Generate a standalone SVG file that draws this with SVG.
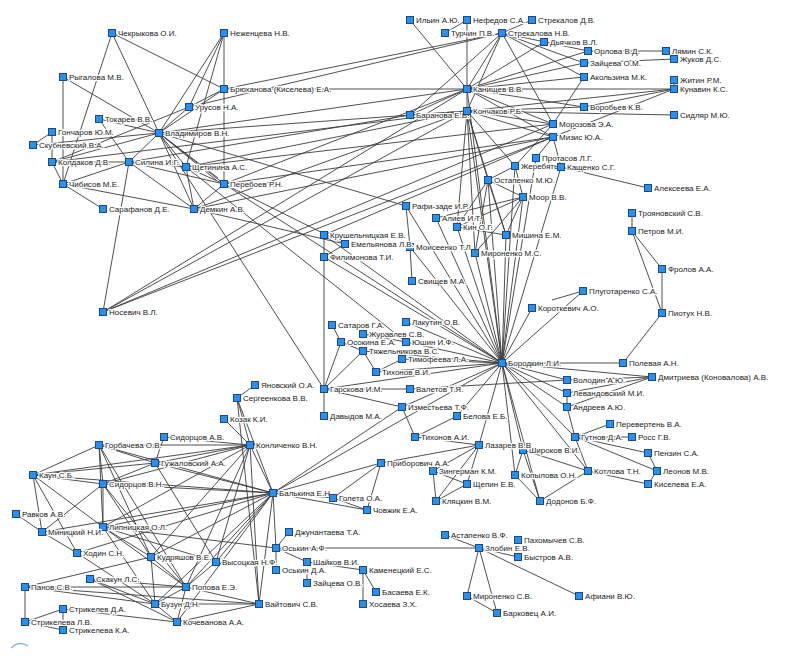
<svg xmlns="http://www.w3.org/2000/svg" width="803" height="658" viewBox="0 0 803 658">
<style>
.e line{stroke:#3c3c3c;stroke-width:0.9}
.n rect{fill:#2b8ff0;stroke:#174a86;stroke-width:1}
.n text{font-family:"Liberation Sans",Arial,sans-serif;font-size:8px;fill:#222;stroke:#fff;stroke-width:2.6px;stroke-linejoin:round;paint-order:stroke}
</style>
<rect width="803" height="658" fill="#fff"/>
<path d="M11,648 Q19,640 28,646" fill="none" stroke="#8fb3d9" stroke-width="1.5"/>
<g id="connectors" class="e">
<line x1="112" y1="33" x2="63" y2="184"/><line x1="112" y1="33" x2="159" y2="133"/><line x1="112" y1="33" x2="224" y2="89"/>
<line x1="63" y1="77" x2="63" y2="184"/><line x1="63" y1="77" x2="159" y2="133"/><line x1="99" y1="119" x2="159" y2="133"/>
<line x1="99" y1="119" x2="129" y2="162"/><line x1="52" y1="132" x2="33" y2="145"/><line x1="52" y1="132" x2="52" y2="162"/>
<line x1="33" y1="145" x2="159" y2="133"/><line x1="52" y1="162" x2="63" y2="184"/><line x1="52" y1="162" x2="129" y2="162"/>
<line x1="52" y1="162" x2="159" y2="133"/><line x1="52" y1="162" x2="189" y2="107"/><line x1="63" y1="184" x2="129" y2="162"/>
<line x1="63" y1="184" x2="103" y2="209"/><line x1="63" y1="184" x2="194" y2="209"/><line x1="129" y1="162" x2="159" y2="133"/>
<line x1="129" y1="162" x2="186" y2="167"/><line x1="129" y1="162" x2="194" y2="209"/><line x1="129" y1="162" x2="103" y2="312"/>
<line x1="159" y1="133" x2="186" y2="167"/><line x1="159" y1="133" x2="224" y2="184"/><line x1="159" y1="133" x2="194" y2="209"/>
<line x1="159" y1="133" x2="189" y2="107"/><line x1="159" y1="133" x2="224" y2="89"/><line x1="159" y1="133" x2="224" y2="33"/>
<line x1="189" y1="107" x2="224" y2="33"/><line x1="189" y1="107" x2="224" y2="89"/><line x1="186" y1="167" x2="224" y2="184"/>
<line x1="186" y1="167" x2="224" y2="33"/><line x1="224" y1="89" x2="224" y2="184"/><line x1="224" y1="33" x2="224" y2="89"/>
<line x1="129" y1="162" x2="224" y2="184"/><line x1="186" y1="167" x2="194" y2="209"/><line x1="194" y1="209" x2="224" y2="184"/>
<line x1="159" y1="133" x2="216" y2="180"/><line x1="159" y1="133" x2="218" y2="178"/>
<line x1="224" y1="89" x2="467" y2="89"/><line x1="224" y1="89" x2="502" y2="33"/><line x1="189" y1="107" x2="502" y2="33"/>
<line x1="159" y1="133" x2="467" y2="89"/><line x1="159" y1="133" x2="467" y2="111"/><line x1="159" y1="133" x2="406" y2="206"/>
<line x1="159" y1="133" x2="324" y2="389"/><line x1="186" y1="167" x2="467" y2="111"/><line x1="186" y1="167" x2="553" y2="124"/>
<line x1="224" y1="184" x2="467" y2="89"/><line x1="224" y1="184" x2="553" y2="137"/><line x1="224" y1="184" x2="502" y2="363"/>
<line x1="129" y1="162" x2="410" y2="115"/><line x1="52" y1="162" x2="467" y2="111"/><line x1="194" y1="209" x2="553" y2="137"/>
<line x1="194" y1="209" x2="467" y2="111"/><line x1="103" y1="312" x2="467" y2="89"/><line x1="103" y1="312" x2="467" y2="111"/>
<line x1="103" y1="312" x2="553" y2="124"/><line x1="103" y1="312" x2="553" y2="137"/><line x1="186" y1="167" x2="406" y2="342"/>
<line x1="224" y1="184" x2="345" y2="244"/><line x1="194" y1="209" x2="345" y2="244"/>
<line x1="410" y1="20" x2="467" y2="89"/><line x1="467" y1="20" x2="445" y2="33"/><line x1="532" y1="20" x2="502" y2="33"/>
<line x1="467" y1="20" x2="467" y2="89"/><line x1="467" y1="89" x2="467" y2="111"/><line x1="502" y1="33" x2="467" y2="89"/>
<line x1="502" y1="33" x2="467" y2="111"/><line x1="502" y1="33" x2="410" y2="115"/><line x1="502" y1="33" x2="553" y2="124"/>
<line x1="502" y1="33" x2="588" y2="51"/><line x1="502" y1="33" x2="584" y2="63"/><line x1="502" y1="33" x2="584" y2="77"/>
<line x1="544" y1="42" x2="467" y2="89"/><line x1="467" y1="89" x2="588" y2="51"/><line x1="467" y1="89" x2="584" y2="63"/>
<line x1="467" y1="89" x2="584" y2="77"/><line x1="588" y1="51" x2="666" y2="51"/><line x1="584" y1="63" x2="674" y2="59"/>
<line x1="666" y1="51" x2="674" y2="59"/><line x1="674" y1="80" x2="674" y2="89"/><line x1="467" y1="89" x2="674" y2="89"/>
<line x1="467" y1="111" x2="674" y2="89"/><line x1="584" y1="107" x2="674" y2="89"/><line x1="553" y1="137" x2="674" y2="89"/>
<line x1="467" y1="111" x2="674" y2="115"/><line x1="467" y1="111" x2="584" y2="107"/><line x1="467" y1="89" x2="584" y2="107"/>
<line x1="467" y1="111" x2="553" y2="124"/><line x1="467" y1="111" x2="553" y2="137"/><line x1="467" y1="89" x2="553" y2="124"/>
<line x1="467" y1="89" x2="553" y2="137"/><line x1="553" y1="124" x2="584" y2="77"/><line x1="553" y1="137" x2="536" y2="158"/>
<line x1="553" y1="137" x2="561" y2="167"/><line x1="561" y1="167" x2="648" y2="188"/><line x1="561" y1="167" x2="502" y2="363"/>
<line x1="467" y1="111" x2="457" y2="227"/><line x1="467" y1="111" x2="506" y2="235"/><line x1="467" y1="111" x2="475" y2="253"/>
<line x1="467" y1="111" x2="488" y2="180"/><line x1="467" y1="111" x2="515" y2="166"/><line x1="467" y1="89" x2="410" y2="115"/>
<line x1="410" y1="115" x2="467" y2="111"/><line x1="553" y1="137" x2="324" y2="235"/><line x1="553" y1="124" x2="515" y2="166"/>
<line x1="515" y1="166" x2="523" y2="197"/><line x1="515" y1="166" x2="488" y2="180"/><line x1="488" y1="180" x2="523" y2="197"/>
<line x1="488" y1="180" x2="457" y2="227"/><line x1="488" y1="180" x2="506" y2="235"/><line x1="488" y1="180" x2="475" y2="253"/>
<line x1="523" y1="197" x2="436" y2="218"/><line x1="523" y1="197" x2="457" y2="227"/><line x1="523" y1="197" x2="475" y2="253"/>
<line x1="523" y1="197" x2="506" y2="235"/><line x1="457" y1="227" x2="506" y2="235"/><line x1="406" y1="206" x2="410" y2="247"/>
<line x1="410" y1="247" x2="412" y2="281"/><line x1="406" y1="206" x2="502" y2="363"/><line x1="410" y1="247" x2="502" y2="363"/>
<line x1="467" y1="111" x2="502" y2="363"/><line x1="515" y1="166" x2="502" y2="363"/><line x1="488" y1="180" x2="502" y2="363"/>
<line x1="523" y1="197" x2="502" y2="363"/><line x1="457" y1="227" x2="502" y2="363"/><line x1="506" y1="235" x2="502" y2="363"/>
<line x1="475" y1="253" x2="502" y2="363"/><line x1="436" y1="218" x2="502" y2="363"/><line x1="467" y1="89" x2="502" y2="363"/>
<line x1="536" y1="158" x2="502" y2="363"/>
<line x1="632" y1="213" x2="632" y2="231"/><line x1="632" y1="231" x2="662" y2="269"/><line x1="632" y1="231" x2="662" y2="313"/>
<line x1="662" y1="269" x2="662" y2="313"/><line x1="662" y1="313" x2="623" y2="363"/><line x1="623" y1="363" x2="502" y2="363"/>
<line x1="583" y1="291" x2="552" y2="300"/><line x1="583" y1="291" x2="502" y2="363"/><line x1="532" y1="308" x2="502" y2="363"/>
<line x1="502" y1="363" x2="567" y2="380"/><line x1="502" y1="363" x2="652" y2="377"/><line x1="502" y1="363" x2="567" y2="393"/>
<line x1="502" y1="363" x2="567" y2="407"/><line x1="567" y1="380" x2="652" y2="377"/><line x1="567" y1="393" x2="652" y2="377"/>
<line x1="567" y1="407" x2="652" y2="377"/><line x1="567" y1="393" x2="567" y2="407"/><line x1="567" y1="407" x2="575" y2="437"/>
<line x1="502" y1="363" x2="575" y2="437"/><line x1="575" y1="437" x2="610" y2="424"/><line x1="575" y1="437" x2="632" y2="437"/>
<line x1="575" y1="437" x2="648" y2="453"/><line x1="575" y1="437" x2="657" y2="471"/><line x1="588" y1="471" x2="648" y2="484"/>
<line x1="648" y1="453" x2="657" y2="471"/><line x1="657" y1="471" x2="648" y2="484"/><line x1="575" y1="437" x2="588" y2="471"/>
<line x1="502" y1="363" x2="588" y2="471"/><line x1="502" y1="363" x2="523" y2="450"/><line x1="502" y1="363" x2="515" y2="475"/>
<line x1="502" y1="363" x2="479" y2="445"/><line x1="502" y1="363" x2="457" y2="416"/><line x1="502" y1="363" x2="540" y2="501"/>
<line x1="523" y1="450" x2="588" y2="471"/><line x1="540" y1="501" x2="588" y2="471"/><line x1="523" y1="450" x2="515" y2="475"/>
<line x1="523" y1="450" x2="540" y2="501"/><line x1="515" y1="475" x2="540" y2="501"/>
<line x1="479" y1="445" x2="415" y2="437"/><line x1="479" y1="445" x2="433" y2="471"/><line x1="479" y1="445" x2="436" y2="501"/>
<line x1="479" y1="445" x2="467" y2="484"/><line x1="479" y1="445" x2="381" y2="463"/><line x1="457" y1="416" x2="415" y2="437"/>
<line x1="433" y1="471" x2="467" y2="484"/><line x1="433" y1="471" x2="436" y2="501"/><line x1="436" y1="501" x2="467" y2="484"/>
<line x1="402" y1="407" x2="415" y2="437"/><line x1="402" y1="407" x2="324" y2="389"/><line x1="402" y1="407" x2="273" y2="493"/>
<line x1="402" y1="407" x2="502" y2="363"/><line x1="324" y1="389" x2="410" y2="389"/><line x1="410" y1="389" x2="567" y2="380"/>
<line x1="324" y1="389" x2="502" y2="363"/><line x1="324" y1="389" x2="341" y2="342"/><line x1="324" y1="389" x2="363" y2="351"/>
<line x1="324" y1="389" x2="324" y2="257"/><line x1="324" y1="389" x2="324" y2="416"/><line x1="324" y1="235" x2="324" y2="257"/>
<line x1="345" y1="244" x2="324" y2="257"/><line x1="341" y1="342" x2="332" y2="325"/><line x1="341" y1="342" x2="363" y2="351"/>
<line x1="363" y1="351" x2="376" y2="372"/><line x1="376" y1="372" x2="402" y2="359"/><line x1="363" y1="334" x2="406" y2="342"/>
<line x1="363" y1="351" x2="502" y2="363"/><line x1="402" y1="359" x2="502" y2="363"/><line x1="376" y1="372" x2="502" y2="363"/>
<line x1="406" y1="342" x2="502" y2="363"/><line x1="406" y1="322" x2="502" y2="363"/><line x1="324" y1="257" x2="502" y2="363"/>
<line x1="324" y1="235" x2="502" y2="363"/><line x1="273" y1="493" x2="502" y2="363"/>
<line x1="255" y1="385" x2="237" y2="398"/><line x1="237" y1="398" x2="250" y2="445"/><line x1="237" y1="398" x2="273" y2="493"/>
<line x1="237" y1="398" x2="259" y2="604"/><line x1="224" y1="419" x2="250" y2="445"/><line x1="250" y1="445" x2="273" y2="493"/>
<line x1="250" y1="445" x2="99" y2="445"/><line x1="250" y1="445" x2="164" y2="437"/><line x1="250" y1="445" x2="155" y2="463"/>
<line x1="250" y1="445" x2="103" y2="484"/><line x1="250" y1="445" x2="103" y2="527"/><line x1="250" y1="445" x2="151" y2="557"/>
<line x1="250" y1="445" x2="216" y2="562"/><line x1="250" y1="445" x2="186" y2="587"/><line x1="250" y1="445" x2="33" y2="475"/>
<line x1="273" y1="493" x2="103" y2="484"/><line x1="273" y1="493" x2="155" y2="463"/><line x1="273" y1="493" x2="103" y2="527"/>
<line x1="273" y1="493" x2="151" y2="557"/><line x1="273" y1="493" x2="216" y2="562"/><line x1="273" y1="493" x2="186" y2="587"/>
<line x1="273" y1="493" x2="155" y2="604"/><line x1="273" y1="493" x2="259" y2="604"/><line x1="273" y1="493" x2="276" y2="548"/>
<line x1="273" y1="493" x2="333" y2="498"/><line x1="273" y1="493" x2="367" y2="510"/><line x1="273" y1="493" x2="381" y2="463"/>
<line x1="273" y1="493" x2="99" y2="445"/><line x1="273" y1="493" x2="42" y2="532"/><line x1="273" y1="493" x2="77" y2="553"/>
<line x1="273" y1="493" x2="33" y2="475"/><line x1="273" y1="493" x2="177" y2="622"/>
<line x1="381" y1="463" x2="333" y2="498"/><line x1="381" y1="463" x2="367" y2="510"/><line x1="333" y1="498" x2="367" y2="510"/>
<line x1="276" y1="548" x2="289" y2="532"/><line x1="276" y1="548" x2="276" y2="570"/><line x1="276" y1="548" x2="307" y2="562"/>
<line x1="276" y1="548" x2="479" y2="548"/><line x1="307" y1="562" x2="363" y2="570"/><line x1="307" y1="572" x2="307" y2="583"/>
<line x1="363" y1="570" x2="376" y2="592"/><line x1="363" y1="570" x2="363" y2="604"/><line x1="103" y1="527" x2="276" y2="548"/>
<line x1="99" y1="445" x2="33" y2="475"/><line x1="99" y1="445" x2="103" y2="484"/><line x1="99" y1="445" x2="155" y2="463"/>
<line x1="99" y1="445" x2="103" y2="527"/><line x1="99" y1="445" x2="151" y2="557"/><line x1="99" y1="445" x2="186" y2="587"/>
<line x1="33" y1="475" x2="155" y2="463"/><line x1="33" y1="475" x2="103" y2="484"/><line x1="33" y1="475" x2="103" y2="527"/>
<line x1="33" y1="475" x2="42" y2="532"/><line x1="33" y1="475" x2="77" y2="553"/><line x1="103" y1="484" x2="103" y2="527"/>
<line x1="103" y1="484" x2="42" y2="532"/><line x1="103" y1="484" x2="155" y2="463"/><line x1="103" y1="484" x2="151" y2="557"/>
<line x1="103" y1="484" x2="186" y2="587"/><line x1="164" y1="437" x2="155" y2="463"/><line x1="16" y1="514" x2="42" y2="532"/>
<line x1="42" y1="532" x2="77" y2="553"/><line x1="103" y1="527" x2="151" y2="557"/><line x1="103" y1="527" x2="186" y2="587"/>
<line x1="103" y1="527" x2="155" y2="604"/><line x1="103" y1="527" x2="216" y2="562"/><line x1="77" y1="553" x2="155" y2="604"/>
<line x1="25" y1="587" x2="25" y2="622"/><line x1="25" y1="587" x2="151" y2="557"/><line x1="25" y1="587" x2="155" y2="604"/>
<line x1="25" y1="587" x2="186" y2="587"/><line x1="25" y1="587" x2="259" y2="604"/><line x1="90" y1="579" x2="155" y2="604"/>
<line x1="90" y1="579" x2="186" y2="587"/><line x1="90" y1="579" x2="177" y2="622"/><line x1="63" y1="609" x2="25" y2="622"/>
<line x1="63" y1="609" x2="63" y2="630"/><line x1="25" y1="622" x2="63" y2="630"/><line x1="63" y1="609" x2="177" y2="622"/>
<line x1="177" y1="622" x2="155" y2="604"/><line x1="177" y1="622" x2="186" y2="587"/><line x1="177" y1="622" x2="259" y2="604"/>
<line x1="155" y1="604" x2="186" y2="587"/><line x1="155" y1="604" x2="259" y2="604"/><line x1="186" y1="587" x2="259" y2="604"/>
<line x1="151" y1="557" x2="186" y2="587"/><line x1="151" y1="557" x2="155" y2="604"/><line x1="216" y1="562" x2="186" y2="587"/>
<line x1="155" y1="463" x2="216" y2="562"/><line x1="250" y1="445" x2="259" y2="604"/>
<line x1="445" y1="535" x2="479" y2="548"/><line x1="479" y1="548" x2="518" y2="557"/><line x1="479" y1="548" x2="467" y2="596"/>
<line x1="479" y1="548" x2="497" y2="613"/><line x1="467" y1="596" x2="497" y2="613"/><line x1="479" y1="548" x2="579" y2="596"/>
</g>
<g class="n">
<g id="n1"><rect x="108.5" y="29.5" width="7" height="7"/><text x="118" y="36">Чекрыкова О.И.</text></g>
<g id="n2"><rect x="220.5" y="29.5" width="7" height="7"/><text x="230" y="36">Неженцева Н.В.</text></g>
<g id="n3"><rect x="59.5" y="73.5" width="7" height="7"/><text x="69" y="80">Рыгалова М.В.</text></g>
<g id="n4"><rect x="220.5" y="85.5" width="7" height="7"/><text x="230" y="92">Брюханова (Киселева) Е.А.</text></g>
<g id="n5"><rect x="185.5" y="103.5" width="7" height="7"/><text x="195" y="110">Урусов Н.А.</text></g>
<g id="n6"><rect x="95.5" y="115.5" width="7" height="7"/><text x="105" y="122">Токарев В.В.</text></g>
<g id="n7"><rect x="48.5" y="128.5" width="7" height="7"/><text x="58" y="135">Гончаров Ю.М.</text></g>
<g id="n8"><rect x="155.5" y="129.5" width="7" height="7"/><text x="165" y="136">Владимиров В.Н.</text></g>
<g id="n9"><rect x="29.5" y="141.5" width="7" height="7"/><text x="39" y="148">Скубневский В.А.</text></g>
<g id="n10"><rect x="48.5" y="158.5" width="7" height="7"/><text x="58" y="165">Колдаков Д.В.</text></g>
<g id="n11"><rect x="125.5" y="158.5" width="7" height="7"/><text x="135" y="165">Силина И.Г.</text></g>
<g id="n12"><rect x="182.5" y="163.5" width="7" height="7"/><text x="192" y="170">Щетинина А.С.</text></g>
<g id="n13"><rect x="59.5" y="180.5" width="7" height="7"/><text x="69" y="187">Чибисов М.Е.</text></g>
<g id="n14"><rect x="220.5" y="180.5" width="7" height="7"/><text x="230" y="187">Перебоев Р.Н.</text></g>
<g id="n15"><rect x="99.5" y="205.5" width="7" height="7"/><text x="109" y="212">Сарафанов Д.Е.</text></g>
<g id="n16"><rect x="190.5" y="205.5" width="7" height="7"/><text x="200" y="212">Демкин А.В.</text></g>
<g id="n17"><rect x="99.5" y="308.5" width="7" height="7"/><text x="109" y="315">Носевич В.Л.</text></g>
<g id="n18"><rect x="406.5" y="16.5" width="7" height="7"/><text x="416" y="23">Ильин А.Ю.</text></g>
<g id="n19"><rect x="463.5" y="16.5" width="7" height="7"/><text x="473" y="23">Нефедов С.А.</text></g>
<g id="n20"><rect x="528.5" y="16.5" width="7" height="7"/><text x="538" y="23">Стрекалов Д.В.</text></g>
<g id="n21"><rect x="441.5" y="29.5" width="7" height="7"/><text x="451" y="36">Турчин П.В.</text></g>
<g id="n22"><rect x="498.5" y="29.5" width="7" height="7"/><text x="508" y="36">Стрекалова Н.В.</text></g>
<g id="n23"><rect x="540.5" y="38.5" width="7" height="7"/><text x="550" y="45">Дьячков В.Л.</text></g>
<g id="n24"><rect x="584.5" y="47.5" width="7" height="7"/><text x="594" y="54">Орлова В.Д.</text></g>
<g id="n25"><rect x="580.5" y="59.5" width="7" height="7"/><text x="590" y="66">Зайцева О.М.</text></g>
<g id="n26"><rect x="580.5" y="73.5" width="7" height="7"/><text x="590" y="80">Акользина М.К.</text></g>
<g id="n27"><rect x="662.5" y="47.5" width="7" height="7"/><text x="672" y="54">Лямин С.К.</text></g>
<g id="n28"><rect x="670.5" y="55.5" width="7" height="7"/><text x="680" y="62">Жуков Д.С.</text></g>
<g id="n29"><rect x="670.5" y="76.5" width="7" height="7"/><text x="680" y="83">Житин Р.М.</text></g>
<g id="n30"><rect x="670.5" y="85.5" width="7" height="7"/><text x="680" y="92">Кунавин К.С.</text></g>
<g id="n31"><rect x="463.5" y="85.5" width="7" height="7"/><text x="473" y="92">Канищев В.В.</text></g>
<g id="n32"><rect x="406.5" y="111.5" width="7" height="7"/><text x="416" y="118">Баранова Е.В.</text></g>
<g id="n33"><rect x="463.5" y="107.5" width="7" height="7"/><text x="473" y="114">Кончаков Р.Б.</text></g>
<g id="n34"><rect x="580.5" y="103.5" width="7" height="7"/><text x="590" y="110">Воробьев К.В.</text></g>
<g id="n35"><rect x="670.5" y="111.5" width="7" height="7"/><text x="680" y="118">Сидляр М.Ю.</text></g>
<g id="n36"><rect x="549.5" y="120.5" width="7" height="7"/><text x="559" y="127">Морозова Э.А.</text></g>
<g id="n37"><rect x="549.5" y="133.5" width="7" height="7"/><text x="559" y="140">Мизис Ю.А.</text></g>
<g id="n38"><rect x="532.5" y="154.5" width="7" height="7"/><text x="542" y="161">Протасов Л.Г.</text></g>
<g id="n39"><rect x="511.5" y="162.5" width="7" height="7"/><text x="521" y="169">Жеребятье</text></g>
<g id="n40"><rect x="557.5" y="163.5" width="7" height="7"/><text x="567" y="170">Кащенко С.Г.</text></g>
<g id="n41"><rect x="484.5" y="176.5" width="7" height="7"/><text x="494" y="183">Остапенко М.Ю.</text></g>
<g id="n42"><rect x="644.5" y="184.5" width="7" height="7"/><text x="654" y="191">Алексеева Е.А.</text></g>
<g id="n43"><rect x="519.5" y="193.5" width="7" height="7"/><text x="529" y="200">Моор В.В.</text></g>
<g id="n44"><rect x="402.5" y="202.5" width="7" height="7"/><text x="412" y="209">Рафи-заде И.Р.</text></g>
<g id="n45"><rect x="432.5" y="214.5" width="7" height="7"/><text x="442" y="221">Алиев И.Т.</text></g>
<g id="n46"><rect x="453.5" y="223.5" width="7" height="7"/><text x="463" y="230">Кин О.Г.</text></g>
<g id="n47"><rect x="502.5" y="231.5" width="7" height="7"/><text x="512" y="238">Мишина Е.М.</text></g>
<g id="n48"><rect x="406.5" y="243.5" width="7" height="7"/><text x="416" y="250">Моисеенко Т.Л.</text></g>
<g id="n49"><rect x="471.5" y="249.5" width="7" height="7"/><text x="481" y="256">Мироненко М.С.</text></g>
<g id="n50"><rect x="408.5" y="277.5" width="7" height="7"/><text x="418" y="284">Свищев М.А.</text></g>
<g id="n51"><rect x="628.5" y="209.5" width="7" height="7"/><text x="638" y="216">Трояновский С.В.</text></g>
<g id="n52"><rect x="628.5" y="227.5" width="7" height="7"/><text x="638" y="234">Петров М.И.</text></g>
<g id="n53"><rect x="658.5" y="265.5" width="7" height="7"/><text x="668" y="272">Фролов А.А.</text></g>
<g id="n54"><rect x="658.5" y="309.5" width="7" height="7"/><text x="668" y="316">Пиотух Н.В.</text></g>
<g id="n55"><rect x="579.5" y="287.5" width="7" height="7"/><text x="589" y="294">Плуготаренко С.А.</text></g>
<g id="n56"><rect x="528.5" y="304.5" width="7" height="7"/><text x="538" y="311">Короткевич А.О.</text></g>
<g id="n57"><rect x="619.5" y="359.5" width="7" height="7"/><text x="629" y="366">Полевая А.Н.</text></g>
<g id="n58"><rect x="498.5" y="359.5" width="7" height="7"/><text x="508" y="366">Бородкин Л.И.</text></g>
<g id="n59"><rect x="563.5" y="376.5" width="7" height="7"/><text x="573" y="383">Володин А.Ю.</text></g>
<g id="n60"><rect x="648.5" y="373.5" width="7" height="7"/><text x="658" y="380">Дмитриева (Коновалова) А.В.</text></g>
<g id="n61"><rect x="563.5" y="389.5" width="7" height="7"/><text x="573" y="396">Левандовский М.И.</text></g>
<g id="n62"><rect x="563.5" y="403.5" width="7" height="7"/><text x="573" y="410">Андреев А.Ю.</text></g>
<g id="n63"><rect x="606.5" y="420.5" width="7" height="7"/><text x="616" y="427">Перевертень В.А.</text></g>
<g id="n64"><rect x="571.5" y="433.5" width="7" height="7"/><text x="581" y="440">Гутнов Д.А.</text></g>
<g id="n65"><rect x="628.5" y="433.5" width="7" height="7"/><text x="638" y="440">Росс Г.В.</text></g>
<g id="n66"><rect x="644.5" y="449.5" width="7" height="7"/><text x="654" y="456">Пензин С.А.</text></g>
<g id="n67"><rect x="653.5" y="467.5" width="7" height="7"/><text x="663" y="474">Леонов М.В.</text></g>
<g id="n68"><rect x="644.5" y="480.5" width="7" height="7"/><text x="654" y="487">Киселева Е.А.</text></g>
<g id="n69"><rect x="584.5" y="467.5" width="7" height="7"/><text x="594" y="474">Котлова Т.Н.</text></g>
<g id="n70"><rect x="519.5" y="446.5" width="7" height="7"/><text x="529" y="453">Широков В.И.</text></g>
<g id="n71"><rect x="511.5" y="471.5" width="7" height="7"/><text x="521" y="478">Копылова О.Н.</text></g>
<g id="n72"><rect x="536.5" y="497.5" width="7" height="7"/><text x="546" y="504">Додонов Б.Ф.</text></g>
<g id="n73"><rect x="475.5" y="441.5" width="7" height="7"/><text x="485" y="448">Лазарев В.В</text></g>
<g id="n74"><rect x="453.5" y="412.5" width="7" height="7"/><text x="463" y="419">Белова Е.Б.</text></g>
<g id="n75"><rect x="411.5" y="433.5" width="7" height="7"/><text x="421" y="440">Тихонов А.И.</text></g>
<g id="n76"><rect x="429.5" y="467.5" width="7" height="7"/><text x="439" y="474">Зингерман К.М.</text></g>
<g id="n77"><rect x="463.5" y="480.5" width="7" height="7"/><text x="473" y="487">Щепин Е.В.</text></g>
<g id="n78"><rect x="432.5" y="497.5" width="7" height="7"/><text x="442" y="504">Кляцкин В.М.</text></g>
<g id="n79"><rect x="320.5" y="231.5" width="7" height="7"/><text x="330" y="238">Крушельницкая Е.В.</text></g>
<g id="n80"><rect x="341.5" y="240.5" width="7" height="7"/><text x="351" y="247">Емельянова Л.В.</text></g>
<g id="n81"><rect x="320.5" y="253.5" width="7" height="7"/><text x="330" y="260">Филимонова Т.И.</text></g>
<g id="n82"><rect x="328.5" y="321.5" width="7" height="7"/><text x="338" y="328">Сатаров Г.А.</text></g>
<g id="n83"><rect x="359.5" y="330.5" width="7" height="7"/><text x="369" y="337">Журавлев С.В.</text></g>
<g id="n84"><rect x="337.5" y="338.5" width="7" height="7"/><text x="347" y="345">Осокина Е.А.</text></g>
<g id="n85"><rect x="359.5" y="347.5" width="7" height="7"/><text x="369" y="354">Тяжельникова В.С.</text></g>
<g id="n86"><rect x="398.5" y="355.5" width="7" height="7"/><text x="408" y="362">Тимофеева Л.А.</text></g>
<g id="n87"><rect x="372.5" y="368.5" width="7" height="7"/><text x="382" y="375">Тихонов В.И.</text></g>
<g id="n88"><rect x="402.5" y="318.5" width="7" height="7"/><text x="412" y="325">Лакутин О.В.</text></g>
<g id="n89"><rect x="402.5" y="338.5" width="7" height="7"/><text x="412" y="345">Юшин И.Ф.</text></g>
<g id="n90"><rect x="320.5" y="385.5" width="7" height="7"/><text x="330" y="392">Гарскова И.М.</text></g>
<g id="n91"><rect x="406.5" y="385.5" width="7" height="7"/><text x="416" y="392">Валетов Т.Я.</text></g>
<g id="n92"><rect x="320.5" y="412.5" width="7" height="7"/><text x="330" y="419">Давыдов М.А.</text></g>
<g id="n93"><rect x="398.5" y="403.5" width="7" height="7"/><text x="408" y="410">Изместьева Т.Ф.</text></g>
<g id="n94"><rect x="251.5" y="381.5" width="7" height="7"/><text x="261" y="388">Яновский О.А.</text></g>
<g id="n95"><rect x="233.5" y="394.5" width="7" height="7"/><text x="243" y="401">Сергеенкова В.В.</text></g>
<g id="n96"><rect x="220.5" y="415.5" width="7" height="7"/><text x="230" y="422">Козак К.И.</text></g>
<g id="n97"><rect x="160.5" y="433.5" width="7" height="7"/><text x="170" y="440">Сидорцов А.В.</text></g>
<g id="n98"><rect x="95.5" y="441.5" width="7" height="7"/><text x="105" y="448">Горбачева О.В.</text></g>
<g id="n99"><rect x="246.5" y="441.5" width="7" height="7"/><text x="256" y="448">Конличенко В.Н.</text></g>
<g id="n100"><rect x="151.5" y="459.5" width="7" height="7"/><text x="161" y="466">Гужаловский А.А.</text></g>
<g id="n101"><rect x="29.5" y="471.5" width="7" height="7"/><text x="39" y="478">Каун С.Б.</text></g>
<g id="n102"><rect x="99.5" y="480.5" width="7" height="7"/><text x="109" y="487">Сидорцов В.Н.</text></g>
<g id="n103"><rect x="269.5" y="489.5" width="7" height="7"/><text x="279" y="496">Балькина Е.Н.</text></g>
<g id="n104"><rect x="329.5" y="494.5" width="7" height="7"/><text x="339" y="501">Голета О.А.</text></g>
<g id="n105"><rect x="377.5" y="459.5" width="7" height="7"/><text x="387" y="466">Приборович А.А.</text></g>
<g id="n106"><rect x="363.5" y="506.5" width="7" height="7"/><text x="373" y="513">Човжик Е.А.</text></g>
<g id="n107"><rect x="12.5" y="510.5" width="7" height="7"/><text x="22" y="517">Равков А.В.</text></g>
<g id="n108"><rect x="99.5" y="523.5" width="7" height="7"/><text x="109" y="530">Липницкая О.Л.</text></g>
<g id="n109"><rect x="38.5" y="528.5" width="7" height="7"/><text x="48" y="535">Миницкий Н.И.</text></g>
<g id="n110"><rect x="285.5" y="528.5" width="7" height="7"/><text x="295" y="535">Джунантаева Т.А.</text></g>
<g id="n111"><rect x="272.5" y="544.5" width="7" height="7"/><text x="282" y="551">Оськин А.Ф.</text></g>
<g id="n112"><rect x="73.5" y="549.5" width="7" height="7"/><text x="83" y="556">Ходин С.Н.</text></g>
<g id="n113"><rect x="147.5" y="553.5" width="7" height="7"/><text x="157" y="560">Кудряшов В.Е.</text></g>
<g id="n114"><rect x="212.5" y="558.5" width="7" height="7"/><text x="222" y="565">Высоцкая Н.Ф.</text></g>
<g id="n115"><rect x="303.5" y="558.5" width="7" height="7"/><text x="313" y="565">Шайков В.И.</text></g>
<g id="n116"><rect x="272.5" y="566.5" width="7" height="7"/><text x="282" y="573">Оськин Д.А.</text></g>
<g id="n117"><rect x="359.5" y="566.5" width="7" height="7"/><text x="369" y="573">Каменецкий Е.С.</text></g>
<g id="n118"><rect x="86.5" y="575.5" width="7" height="7"/><text x="96" y="582">Скакун Л.С.</text></g>
<g id="n119"><rect x="21.5" y="583.5" width="7" height="7"/><text x="31" y="590">Панов С.В.</text></g>
<g id="n120"><rect x="182.5" y="583.5" width="7" height="7"/><text x="192" y="590">Попова Е.Э.</text></g>
<g id="n121"><rect x="303.5" y="579.5" width="7" height="7"/><text x="313" y="586">Зайцева О.В.</text></g>
<g id="n122"><rect x="372.5" y="588.5" width="7" height="7"/><text x="382" y="595">Басаева Е.К.</text></g>
<g id="n123"><rect x="151.5" y="600.5" width="7" height="7"/><text x="161" y="607">Бузун Д.Н.</text></g>
<g id="n124"><rect x="255.5" y="600.5" width="7" height="7"/><text x="265" y="607">Вайтович С.В.</text></g>
<g id="n125"><rect x="359.5" y="600.5" width="7" height="7"/><text x="369" y="607">Хосаева З.Х.</text></g>
<g id="n126"><rect x="59.5" y="605.5" width="7" height="7"/><text x="69" y="612">Стрикелев Д.А.</text></g>
<g id="n127"><rect x="21.5" y="618.5" width="7" height="7"/><text x="31" y="625">Стрикелева Л.В.</text></g>
<g id="n128"><rect x="173.5" y="618.5" width="7" height="7"/><text x="183" y="625">Кочеванова А.А.</text></g>
<g id="n129"><rect x="59.5" y="626.5" width="7" height="7"/><text x="69" y="633">Стрикелева К.А.</text></g>
<g id="n130"><rect x="441.5" y="531.5" width="7" height="7"/><text x="451" y="538">Астапенко В.Ф.</text></g>
<g id="n131"><rect x="514.5" y="536.5" width="7" height="7"/><text x="524" y="543">Пахомычев С.В.</text></g>
<g id="n132"><rect x="475.5" y="544.5" width="7" height="7"/><text x="485" y="551">Злобин Е.В.</text></g>
<g id="n133"><rect x="514.5" y="553.5" width="7" height="7"/><text x="524" y="560">Быстров А.В.</text></g>
<g id="n134"><rect x="463.5" y="592.5" width="7" height="7"/><text x="473" y="599">Мироненко С.В.</text></g>
<g id="n135"><rect x="575.5" y="592.5" width="7" height="7"/><text x="585" y="599">Афиани В.Ю.</text></g>
<g id="n136"><rect x="493.5" y="609.5" width="7" height="7"/><text x="503" y="616">Барковец А.И.</text></g>
</g>
</svg>
